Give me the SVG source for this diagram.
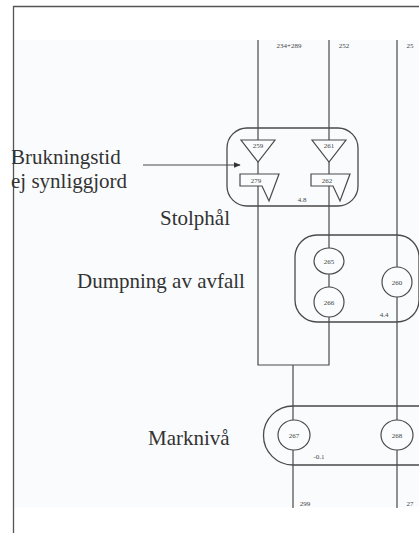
<svg xmlns="http://www.w3.org/2000/svg" width="419" height="533" viewBox="0 0 419 533">
<defs>
<style>
.ln{fill:none;stroke:#4a4a4a;stroke-width:1.2}
.sh{fill:#fbfcfe;stroke:#4a4a4a;stroke-width:1.2}
.box{fill:none;stroke:#4a4a4a;stroke-width:1.3}
.big{font-family:"Liberation Serif","Times New Roman",serif;font-size:21px;fill:#333}
.sm{font-family:"Liberation Serif","Times New Roman",serif;font-size:7px;fill:#444;text-anchor:middle}
</style>
<marker id="ah" viewBox="0 0 10 10" refX="9" refY="5" markerWidth="7" markerHeight="7" orient="auto" markerUnits="userSpaceOnUse">
<path d="M0,1 L10,5 L0,9 z" fill="#333"/>
</marker>
</defs>
<rect x="0" y="0" width="419" height="533" fill="#ffffff"/>
<rect x="13" y="40" width="406" height="467" fill="#fafbfd"/>
<path d="M13,6.5 H419 M13.5,6 V533" stroke="#555" stroke-width="1.3" fill="none"/>

<g id="connectors">
<path class="ln" d="M258,40 V140 M258,162 V174 M258,186 V365 H329 V317 M329,40 V140 M329,162 V174 M329,186 V248 M329,274 V287 M293,365 V420 M293,450 V508 M397,40 V267 M397,297 V420 M397,450 V508"/>
<path class="ln" d="M143,165 H240" marker-end="url(#ah)"/>
</g>

<g id="stolphal">
<rect class="box" x="227" y="128" width="131" height="78" rx="20"/>
<text class="big" x="160" y="225">Stolphål</text>
<text class="sm" x="302" y="202">4.8</text>
</g>
<g id="n259"><polygon class="sh" points="241,140 275,140 258,162"/><text class="sm" x="258" y="148">259</text></g>
<g id="n261"><polygon class="sh" points="312,140 346,140 329,162"/><text class="sm" x="329" y="148">261</text></g>
<g id="n279"><polygon class="sh" points="240,174 279,174 269,201 262,186 240,186"/><text class="sm" x="256" y="183">279</text></g>
<g id="n262"><polygon class="sh" points="311,174 350,174 340,201 333,186 311,186"/><text class="sm" x="327" y="183">262</text></g>

<g id="dumpning">
<rect class="box" x="295" y="235" width="124" height="87" rx="22"/>
<text class="big" x="77" y="288">Dumpning av avfall</text>
<text class="sm" x="384" y="317">4.4</text>
</g>
<g id="n265"><ellipse class="sh" cx="329" cy="261" rx="15" ry="13"/><text class="sm" x="329" y="263.5">265</text></g>
<g id="n266"><ellipse class="sh" cx="329" cy="302" rx="15" ry="15"/><text class="sm" x="329" y="304.5">266</text></g>
<g id="n260"><ellipse class="sh" cx="397" cy="282" rx="15" ry="15"/><text class="sm" x="397" y="284.5">260</text></g>

<g id="markniva">
<path class="box" d="M419,406 H293 A29.5,29.5 0 0 0 293,465 H419"/>
<text class="big" x="148" y="445">Marknivå</text>
<text class="sm" x="319" y="459">-0.1</text>
</g>
<g id="n267"><ellipse class="sh" cx="294" cy="435" rx="16" ry="15"/><text class="sm" x="294" y="437.5">267</text></g>
<g id="n268"><ellipse class="sh" cx="397" cy="435" rx="16" ry="15"/><text class="sm" x="397" y="437.5">268</text></g>

<g id="bruk">
<text class="big" x="11" y="164">Brukningstid</text>
<text class="big" x="11" y="188">ej synliggjord</text>
</g>

<g id="labels">
<text class="sm" x="289" y="48">234+289</text>
<text class="sm" x="344" y="48">252</text>
<text class="sm" x="410" y="48">25</text>
<text class="sm" x="305" y="506">299</text>
<text class="sm" x="410" y="506">27</text>
</g>
</svg>
